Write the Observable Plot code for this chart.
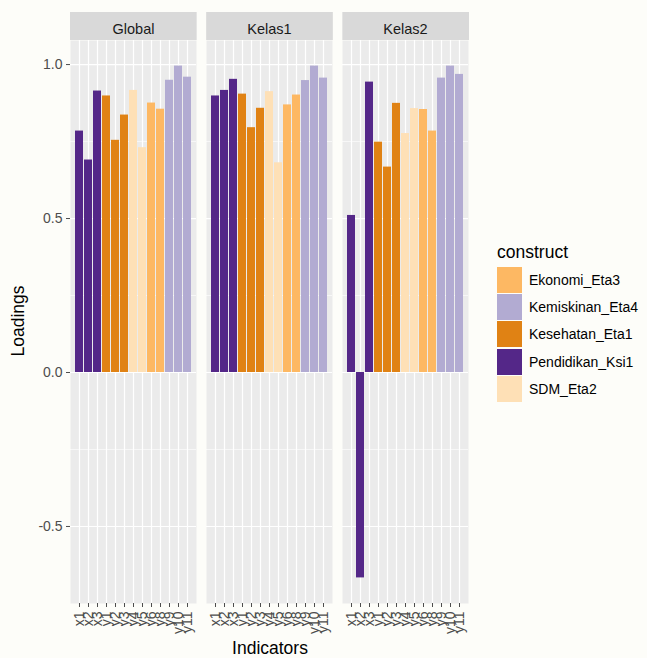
<!DOCTYPE html>
<html>
<head>
<meta charset="utf-8">
<script src="https://cdn.jsdelivr.net/npm/d3@7"></script>
<script src="https://cdn.jsdelivr.net/npm/@observablehq/plot@0.6"></script>
<style>
  html, body { margin: 0; padding: 0; background: #fdfdf9; }
  #wrap { position: relative; width: 647px; height: 658px; font-family: "Liberation Sans", Arial, sans-serif; overflow: hidden; }
  #wrap svg { position: absolute; left: 0; top: 0; }
  .title { position: absolute; color: #000; font-size: 17.5px; white-space: nowrap; }
  #ytitle { left: 18px; top: 321px; transform: translate(-50%, -50%) rotate(-90deg); }
  #xtitle { left: 270px; top: 648px; transform: translate(-50%, -50%); }
  #legend { position: absolute; left: 497px; top: 242px; }
  #legend .lt { font-size: 17.5px; color: #000; margin-bottom: 3px; }
  #legend .item { display: flex; align-items: center; height: 27.3px; }
  #legend .key { width: 25px; height: 26px; margin-right: 7px; }
  #legend .lab { font-size: 14px; color: #000; }
</style>
</head>
<body>
<div id="wrap">
  <div id="ytitle" class="title">Loadings</div>
  <div id="xtitle" class="title">Indicators</div>
  <div id="legend"></div>
</div>
<script>
const panels = ["Global", "Kelas1", "Kelas2"];
const indicators = ["x1","x2","x3","y1","y2","y3","y4","y5","y6","y8","y9","y10","y11"];
const indicatorConstruct = [
  "Pendidikan_Ksi1","Pendidikan_Ksi1","Pendidikan_Ksi1",
  "Kesehatan_Eta1","Kesehatan_Eta1","Kesehatan_Eta1",
  "SDM_Eta2","SDM_Eta2",
  "Ekonomi_Eta3","Ekonomi_Eta3",
  "Kemiskinan_Eta4","Kemiskinan_Eta4","Kemiskinan_Eta4"
];
const globalLoadings = [0.784,0.690,0.914,0.898,0.754,0.836,0.916,0.730,0.875,0.855,0.949,0.995,0.959];
const kelas1Loadings = [0.898,0.916,0.952,0.904,0.795,0.858,0.912,0.681,0.869,0.901,0.948,0.995,0.956];
const kelas2Loadings = [0.510,-0.667,0.943,0.748,0.667,0.874,0.776,0.857,0.854,0.784,0.956,0.995,0.968];
const constructs = ["Ekonomi_Eta3","Kemiskinan_Eta4","Kesehatan_Eta1","Pendidikan_Ksi1","SDM_Eta2"];
const constructColors = ["#fdb863","#b2abd2","#e08214","#542788","#fee0b6"];
const yTicks = [-0.5, 0, 0.5, 1.0];
const yMinorTicks = [-0.25, 0.25, 0.75];

const series = [globalLoadings, kelas1Loadings, kelas2Loadings];
const data = [];
panels.forEach((p, i) => indicators.forEach((ind, j) => data.push({
  panel: p, indicator: ind, construct: indicatorConstruct[j], value: series[i][j]
})));

const [vmin, vmax] = d3.extent(data, d => d.value);
const pad = (Math.max(vmax, 0) - Math.min(vmin, 0)) * 0.05;
const yDomain = [Math.min(vmin, 0) - pad, Math.max(vmax, 0) + pad];

const font = '"Liberation Sans", Arial, sans-serif';
const plot = Plot.plot({
  width: 647, height: 658,
  marginLeft: 70, marginRight: 178, marginTop: 40, marginBottom: 55,
  style: { fontFamily: font, background: "transparent", overflow: "visible" },
  fx: { domain: panels, paddingInner: 0.07, paddingOuter: 0, label: null },
  x: { domain: indicators, paddingInner: 0.1, paddingOuter: 0.15, align: 0.5 },
  y: { domain: yDomain },
  color: { domain: constructs, range: constructColors },
  marks: [
    Plot.frame({ fill: "#ebebeb", stroke: null }),
    Plot.gridY(yMinorTicks, { stroke: "white", strokeOpacity: 1, strokeWidth: 0.6 }),
    Plot.gridY(yTicks, { stroke: "white", strokeOpacity: 1, strokeWidth: 1.2 }),
    Plot.gridX(indicators, { stroke: "white", strokeOpacity: 1, strokeWidth: 1.2 }),
    Plot.barY(data, { fx: "panel", x: "indicator", y: "value", fill: "construct" }),
    Plot.axisFx({ anchor: "top", tickSize: 0, tickPadding: 7, fontSize: 14.5, color: "#1a1a1a", label: null }),
    Plot.axisX({ tickRotate: -90, tickSize: 4, tickPadding: 4, fontSize: 14, color: "#4d4d4d", label: null }),
    Plot.axisY(yTicks, { tickSize: 4, tickPadding: 4, fontSize: 14, color: "#4d4d4d", label: null, tickFormat: d => d.toFixed(1) })
  ]
});

// facet strips (background boxes behind the fx labels)
const fxs = plot.scale("fx");
const band = d3.scaleBand().domain(fxs.domain).range(fxs.range)
  .paddingInner(fxs.paddingInner ?? 0.07).paddingOuter(fxs.paddingOuter ?? 0).align(fxs.align ?? 0.5);
const ns = "http://www.w3.org/2000/svg";
const g = document.createElementNS(ns, "g");
panels.forEach(p => {
  const r = document.createElementNS(ns, "rect");
  r.setAttribute("x", band(p)); r.setAttribute("width", band.bandwidth());
  r.setAttribute("y", 12); r.setAttribute("height", 28);
  r.setAttribute("fill", "#d9d9d9");
  g.appendChild(r);
});
const firstNonStyle = Array.from(plot.childNodes).find(n => n.nodeName !== "style");
plot.insertBefore(g, firstNonStyle);

document.getElementById("wrap").appendChild(plot);

// legend built from the plot's colour scale
const cs = plot.scale("color");
const leg = document.getElementById("legend");
leg.innerHTML = '<div class="lt">construct</div>';
cs.domain.forEach((c, i) => {
  const it = document.createElement("div"); it.className = "item";
  it.innerHTML = `<div class="key" style="background:${cs.range[i]}"></div><div class="lab">${c}</div>`;
  leg.appendChild(it);
});
</script>
</body>
</html>
